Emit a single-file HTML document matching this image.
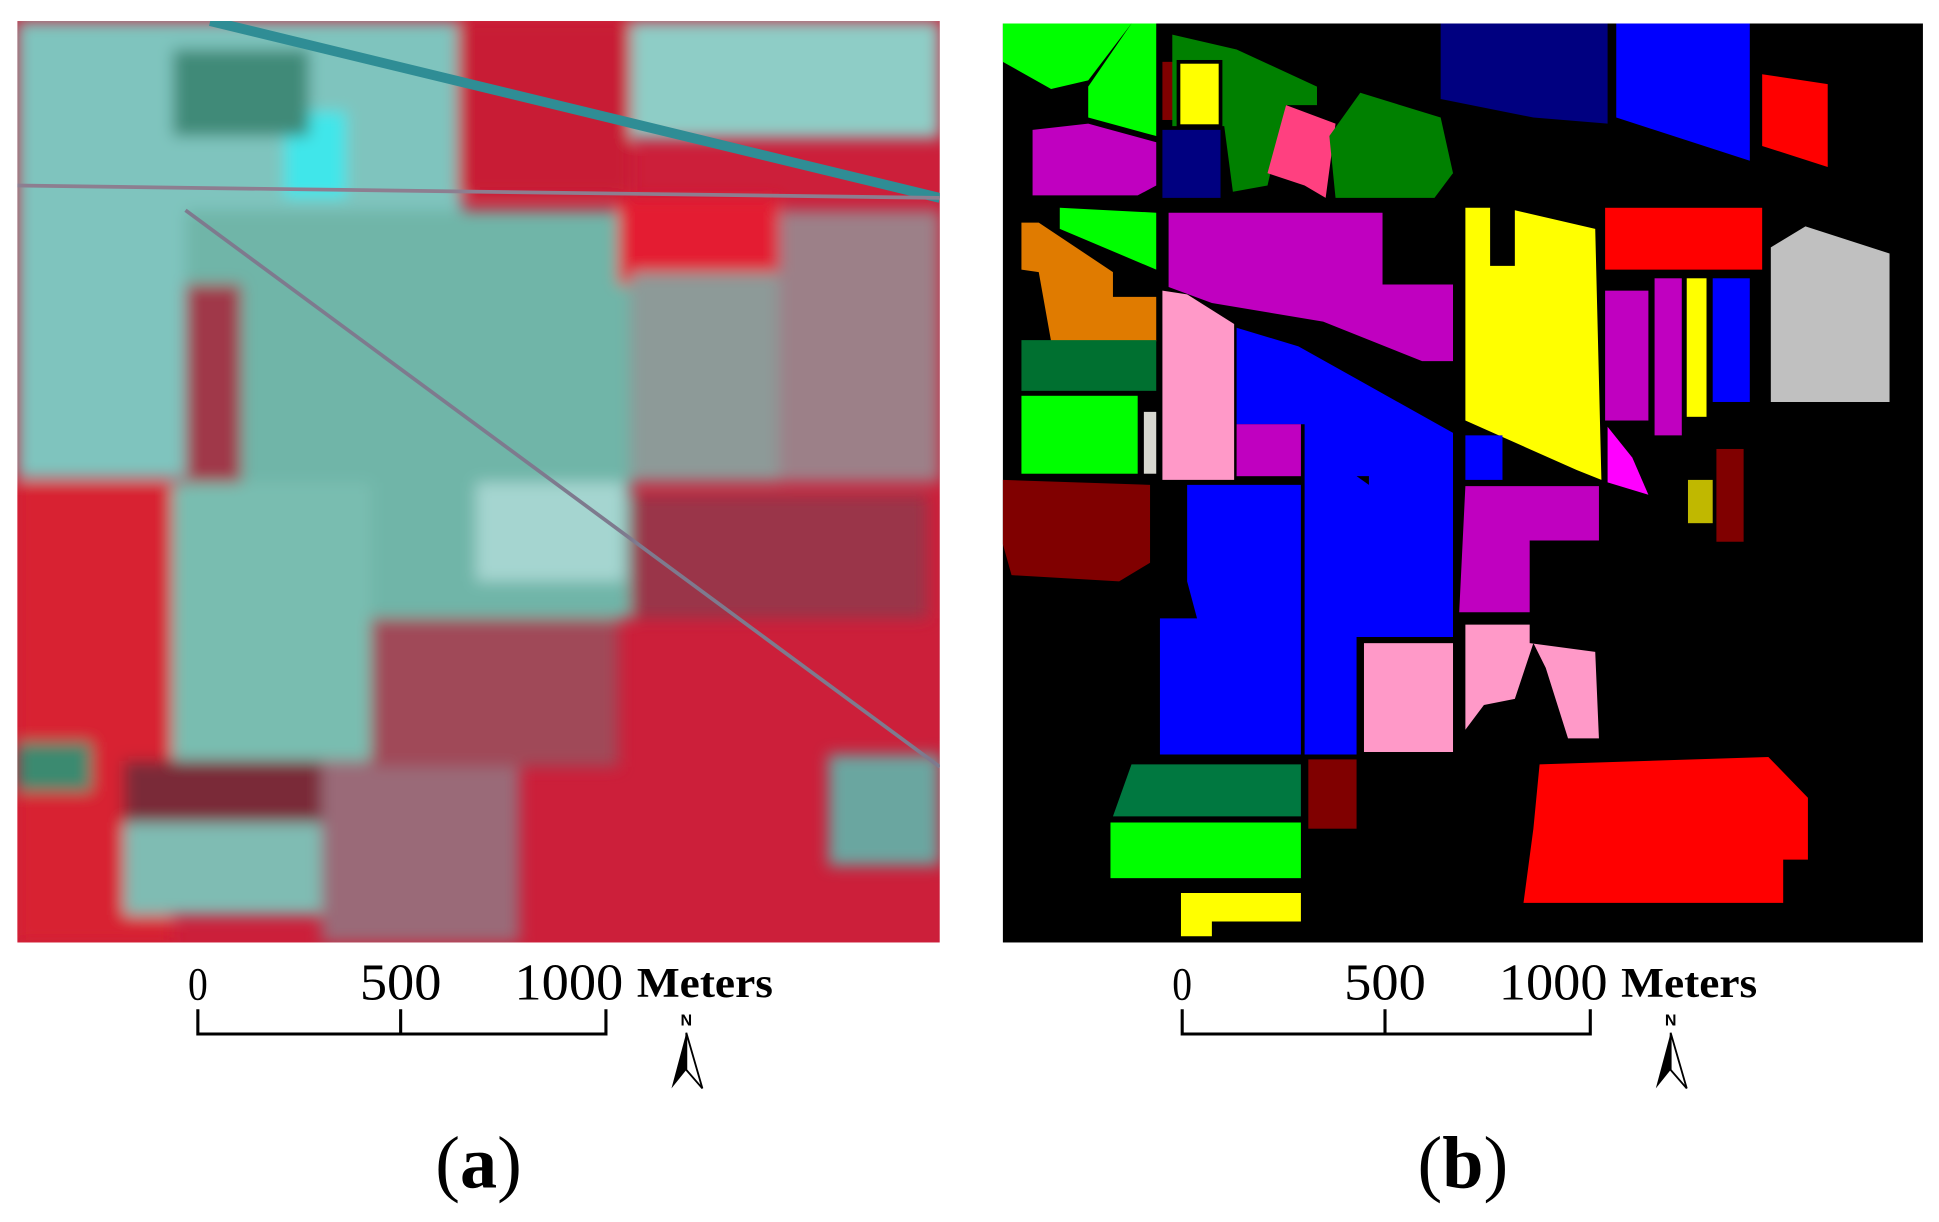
<!DOCTYPE html>
<html><head><meta charset="utf-8"><style>
html,body{margin:0;padding:0;background:#fff;}
svg{display:block;}
text{font-family:"Liberation Serif",serif;fill:#000;}
</style></head><body>
<svg width="1939" height="1222" viewBox="0 0 1568 988" preserveAspectRatio="none">
<defs><filter id="blur"><feGaussianBlur stdDeviation="6"/></filter><clipPath id="ca"><rect x="14" y="17" width="746" height="745"/></clipPath></defs>
<g clip-path="url(#ca)">
<rect x="14" y="17" width="746" height="745" fill="#cc1f3a"/>
<g filter="url(#blur)">
<rect x="14" y="17" width="360" height="370" fill="#7fc4be"/>
<rect x="150" y="170" width="360" height="330" fill="#6fb5a8"/>
<rect x="135" y="390" width="165" height="225" fill="#79bdb0"/>
<rect x="385" y="390" width="120" height="80" fill="#a5d5d0"/>
<rect x="510" y="17" width="250" height="95" fill="#8ecdc6"/>
<rect x="370" y="17" width="140" height="140" fill="#c81f35"/>
<rect x="500" y="160" width="130" height="70" fill="#e41e30"/>
<rect x="630" y="170" width="130" height="220" fill="#9c8088"/>
<rect x="510" y="220" width="120" height="170" fill="#8d9a98"/>
<rect x="14" y="390" width="125" height="372" fill="#d82030"/>
<rect x="100" y="615" width="160" height="50" fill="#7a2a38"/>
<rect x="100" y="665" width="160" height="75" fill="#7fbcb3"/>
<rect x="260" y="615" width="160" height="147" fill="#9a6b78"/>
<rect x="300" y="500" width="200" height="120" fill="#a04858"/>
<rect x="670" y="610" width="90" height="90" fill="#6aa6a0"/>
<rect x="230" y="90" width="50" height="70" fill="#40e6ea"/>
<rect x="140" y="40" width="110" height="70" fill="#3f8a78"/>
<rect x="150" y="230" width="45" height="160" fill="#a03848"/>
<rect x="510" y="400" width="240" height="100" fill="#9a3448"/>
<rect x="14" y="600" width="60" height="40" fill="#3a8a70"/>
</g>
<line x1="170" y1="17" x2="760" y2="160" stroke="#2f8d95" stroke-width="8"/>
<line x1="14" y1="150" x2="760" y2="160" stroke="#8d7e90" stroke-width="3"/>
<line x1="150" y1="170" x2="760" y2="620" stroke="#7e7a8e" stroke-width="3"/>
</g>
<g>
<rect x="811" y="19" width="744" height="743" fill="#000"/>
<polygon points="811,19 915,19 880,65 850,72 811,50" fill="#00ff00"/>
<polygon points="915,19 935,19 935,110 880,95 880,70" fill="#00ff00"/>
<rect x="940" y="50" width="10" height="47" fill="#800000"/>
<polygon points="948,28 1000,40 1065,70 1065,85 1040,85 1025,150 997,155 990,102 948,102" fill="#008000"/>
<rect x="953" y="50" width="34" height="52" fill="#ffff00" stroke="#000" stroke-width="3"/>
<polygon points="1040,85 1080,100 1072,160 1055,150 1025,140" fill="#ff4080"/>
<polygon points="1075,110 1100,75 1165,95 1175,140 1160,160 1080,160" fill="#008000"/>
<rect x="940" y="105" width="47" height="55" fill="#000080"/>
<polygon points="1165,19 1300,19 1300,100 1240,95 1165,80" fill="#000080"/>
<polygon points="1307,19 1415,19 1415,130 1307,95" fill="#0000ff"/>
<polygon points="1425,60 1478,68 1478,135 1425,118" fill="#ff0000"/>
<polygon points="835,105 880,100 935,115 935,150 920,158 835,158" fill="#c000c0"/>
<polygon points="857,168 935,172 935,218 857,185" fill="#00ff00"/>
<polygon points="826,180 840,180 900,220 900,240 935,240 935,276 850,276 840,220 826,218" fill="#e07b00"/>
<polygon points="945,172 1118,172 1118,230 1175,230 1175,292 1150,292 1070,260 980,245 945,232" fill="#c000c0"/>
<polygon points="940,235 960,238 998,262 998,388 940,388" fill="#ff99c8"/>
<polygon points="1000,265 1050,280 1175,350 1175,515 1097,515 1097,610 1055,610 1055,385 1097,385 1107,392 1107,385 1055,385 1055,343 1000,343" fill="#0000ff"/>
<polygon points="960,392 1052,392 1052,610 938,610 938,500 968,500 960,470" fill="#0000ff"/>
<rect x="1000" y="343" width="52" height="42" fill="#c000c0"/>
<rect x="826" y="275" width="109" height="41" fill="#007030"/>
<rect x="826" y="320" width="94" height="63" fill="#00ff00"/>
<rect x="925" y="333" width="10" height="50" fill="#d8d8d0"/>
<polygon points="811,388 930,392 930,455 905,470 818,465 811,440" fill="#800000"/>
<polygon points="1185,168 1205,168 1205,215 1225,215 1225,170 1290,185 1295,388 1275,380 1185,340" fill="#ffff00"/>
<rect x="1298" y="168" width="127" height="50" fill="#ff0000"/>
<polygon points="1432,200 1460,183 1528,205 1528,325 1432,325" fill="#c0c0c0"/>
<rect x="1298" y="235" width="35" height="105" fill="#c000c0"/>
<rect x="1338" y="225" width="22" height="127" fill="#c000c0"/>
<rect x="1364" y="225" width="16" height="112" fill="#ffff00"/>
<rect x="1385" y="225" width="30" height="100" fill="#0000ff"/>
<rect x="1185" y="352" width="30" height="36" fill="#0000ff"/>
<polygon points="1300,345 1320,370 1333,400 1300,390" fill="#ff00ff"/>
<rect x="1365" y="388" width="20" height="35" fill="#c0b800"/>
<rect x="1388" y="363" width="22" height="75" fill="#800000"/>
<polygon points="1185,393 1293,393 1293,437 1237,437 1237,495 1180,495" fill="#c000c0"/>
<rect x="1103" y="520" width="72" height="88" fill="#ff99c8"/>
<polygon points="1185,505 1237,505 1237,520 1290,527 1293,597 1268,597 1250,540 1240,520 1225,565 1200,570 1185,590" fill="#ff99c8"/>
<polygon points="915,618 1052,618 1052,660 900,660" fill="#007840"/>
<rect x="1058" y="614" width="39" height="56" fill="#800000"/>
<rect x="898" y="665" width="154" height="45" fill="#00ff00"/>
<polygon points="955,722 1052,722 1052,745 980,745 980,757 955,757" fill="#ffff00"/>
<polygon points="1245,618 1430,612 1462,645 1462,695 1442,695 1442,730 1232,730 1240,670" fill="#ff0000"/>
</g>
<g>
<text x="160" y="808" font-size="38" text-anchor="middle" textLength="16" lengthAdjust="spacingAndGlyphs">0</text>
<text x="324" y="808" font-size="42" text-anchor="middle" textLength="66" lengthAdjust="spacingAndGlyphs">500</text>
<text x="460" y="808" font-size="42" text-anchor="middle" textLength="88" lengthAdjust="spacingAndGlyphs">1000</text>
<text x="515" y="806" font-size="34" font-weight="bold" textLength="110" lengthAdjust="spacingAndGlyphs">Meters</text>
<path d="M160,816 V836 H490 V816 M324,816 V836" fill="none" stroke="#000" stroke-width="2.5"/>
<text x="555" y="829" font-size="13" font-weight="bold" text-anchor="middle" style="font-family:'Liberation Sans',sans-serif">N</text>
<polygon points="555,835 543,880 555,865" fill="#000"/><polygon points="555,835 568,880 555,865" fill="none" stroke="#000" stroke-width="1.5"/>
<text x="387" y="960" font-size="60" text-anchor="middle">(<tspan font-weight="bold">a</tspan>)</text>
</g>
<g transform="translate(796,0)">
<text x="160" y="808" font-size="38" text-anchor="middle" textLength="16" lengthAdjust="spacingAndGlyphs">0</text>
<text x="324" y="808" font-size="42" text-anchor="middle" textLength="66" lengthAdjust="spacingAndGlyphs">500</text>
<text x="460" y="808" font-size="42" text-anchor="middle" textLength="88" lengthAdjust="spacingAndGlyphs">1000</text>
<text x="515" y="806" font-size="34" font-weight="bold" textLength="110" lengthAdjust="spacingAndGlyphs">Meters</text>
<path d="M160,816 V836 H490 V816 M324,816 V836" fill="none" stroke="#000" stroke-width="2.5"/>
<text x="555" y="829" font-size="13" font-weight="bold" text-anchor="middle" style="font-family:'Liberation Sans',sans-serif">N</text>
<polygon points="555,835 543,880 555,865" fill="#000"/><polygon points="555,835 568,880 555,865" fill="none" stroke="#000" stroke-width="1.5"/>
<text x="387" y="960" font-size="60" text-anchor="middle">(<tspan font-weight="bold">b</tspan>)</text>
</g>
</svg>
</body></html>
